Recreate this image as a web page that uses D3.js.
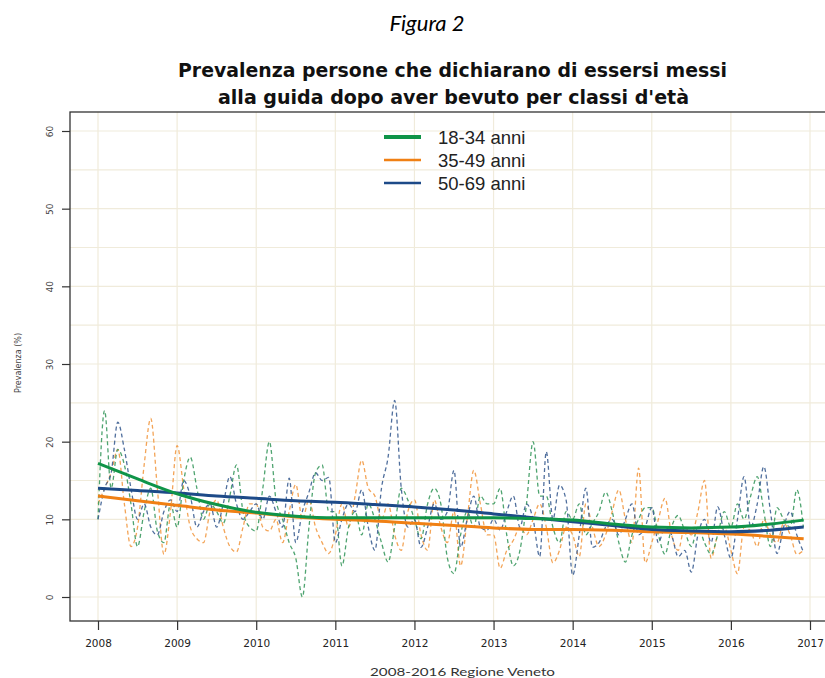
<!DOCTYPE html>
<html>
<head>
<meta charset="utf-8">
<script src="https://cdn.jsdelivr.net/npm/d3@7"></script>
<style>
  html, body { margin: 0; padding: 0; background: #fff; }
  svg { display: block; }
</style>
</head>
<body>
<svg id="chart" width="825" height="678"></svg>
<script>
// ---- DATA ----
const seriesNames = ["18-34 anni", "35-49 anni", "50-69 anni"];
const xTickLabels = ["2008","2009","2010","2011","2012","2013","2014","2015","2016","2017"];
const yTickLabels = [0, 10, 20, 30, 40, 50, 60];
const startYear = 2008;

// monthly values Jan 2008 .. Dec 2016
const green1834 = [
  10, 24, 14, 19, 17, 12, 6.5, 11, 14, 8.5, 7, 12,
  9, 15, 18, 14, 10, 12, 11, 9.5, 13, 17, 11, 9,
  8.5, 14, 20, 12.5, 10, 7, 5, 0, 9, 16, 17, 11,
  11, 4, 9, 11, 8, 12, 10, 7, 4.5, 9, 14, 12.5,
  10, 7.5, 12, 14, 12, 5, 3, 8, 11, 9, 13, 12,
  12, 14, 8, 4, 6, 12, 20, 13, 13, 9, 7, 11,
  10, 12, 8, 9.5, 11, 13.5, 11, 7, 4.5, 8, 10, 11.5,
  11.5, 8, 5.5, 9, 10.5, 8.5, 6.5, 9, 7, 5.5, 8, 11,
  9, 12, 10, 13, 15.5, 11, 6.5, 11.5, 10, 9, 13.8, 9
];
const orange3549 = [
  12, 14, 16, 19, 12, 6.5, 9, 17, 23, 14, 5.5, 11,
  19.5, 14, 9, 7.5, 7, 11, 12.5, 9, 6.5, 5.8, 9, 12,
  12, 9, 8.5, 10, 7, 11, 14.5, 10, 12.5, 9, 7, 5.6,
  8, 12, 9, 13, 17.6, 14, 13, 10, 12, 8, 6, 11,
  12.5, 8, 6, 12.5, 9, 7, 11, 4, 10, 16.3, 12, 8,
  8, 3.7, 6, 7.3, 9, 8, 10, 12, 9, 4.4, 6, 9,
  8, 5.2, 12, 9, 6.5, 8, 11, 13.8, 10, 7, 16.6, 4.4,
  7, 10, 12.7, 8, 6, 9, 8, 11, 15, 5, 8, 9,
  6, 3, 9, 8.5, 6.5, 10, 8, 7, 9.5, 8, 5.5, 6
];
const blue5069 = [
  10, 14, 16, 22.5, 19, 14, 10, 12, 9, 8, 11, 12.5,
  11, 15, 13, 9, 11, 12, 9, 12, 15.5, 12, 10, 11,
  12, 10, 13, 11, 9, 15.3, 7, 11, 13.5, 16, 15, 15.4,
  7, 10, 12, 11, 13.8, 9, 6, 14, 18, 25.3, 14, 9,
  10, 6.4, 9, 12, 10, 11, 16.3, 6.4, 10, 13, 9, 8.6,
  10, 8.6, 11, 13, 9, 12, 10, 5.2, 18.7, 10, 14.4, 12.5,
  2.8, 8, 14, 6.4, 7, 9, 10, 8, 10, 12, 8, 9,
  11.5, 7, 9, 8, 5.2, 6, 3.2, 8, 10, 7, 11.6, 8,
  5, 10, 15.5, 9, 12, 16.8, 11, 5.6, 9, 11, 8, 5.8
];

// smoothed trend (half-year knots)
const trendYears = [2008, 2008.5, 2009, 2009.5, 2010, 2010.5, 2011, 2011.5, 2012, 2012.5,
                    2013, 2013.5, 2014, 2014.5, 2015, 2015.5, 2016, 2016.5, 2016.92];
const greenTrend  = [17.2, 15.2, 13.3, 11.9, 10.9, 10.4, 10.2, 10.2, 10.2, 10.2,
                     10.2, 10.1, 9.9, 9.4, 9.0, 8.9, 9.0, 9.4, 9.9];
const orangeTrend = [13.0, 12.4, 11.8, 11.2, 10.8, 10.3, 10.0, 9.8, 9.5, 9.2,
                     8.9, 8.7, 8.7, 8.6, 8.4, 8.3, 8.1, 7.8, 7.5];
const blueTrend   = [14.0, 13.7, 13.4, 13.0, 12.7, 12.4, 12.2, 11.9, 11.6, 11.2,
                     10.7, 10.2, 9.7, 9.2, 8.7, 8.5, 8.4, 8.6, 9.0];

// ---- STYLE ----
const trendColors = ["#0f9448", "#f08014", "#1d4a88"];
const dashColors  = ["#3c9a60", "#f29a45", "#3d5f92"];

// ---- DRAW ----
const svg = d3.select("#chart");
const box = { left: 70, top: 112, right: 834, bottom: 621 };

const x = d3.scaleLinear().domain([2008, 2017]).range([98, 810]);
const y = d3.scaleLinear().domain([0, 60]).range([597, 131]);

// grid
const gridG = svg.append("g");
gridG.selectAll("line.h").data(d3.range(0, 61, 5)).join("line")
  .attr("x1", box.left).attr("x2", box.right)
  .attr("y1", d => y(d)).attr("y2", d => y(d))
  .attr("stroke", "#f0ebdb").attr("stroke-width", 1.2);
gridG.selectAll("line.v").data(xTickLabels).join("line")
  .attr("x1", d => x(+d)).attr("x2", d => x(+d))
  .attr("y1", box.top).attr("y2", box.bottom)
  .attr("stroke", "#f0ebdb").attr("stroke-width", 1.2);

// dashed monthly series
const monthly = [green1834, orange3549, blue5069];
const lineM = d3.line()
  .x((d, i) => x(startYear + i / 12))
  .y(d => y(d))
  .curve(d3.curveMonotoneX);
[1, 0, 2].forEach(k => {
  svg.append("path").datum(monthly[k])
    .attr("d", lineM)
    .attr("fill", "none")
    .attr("stroke", dashColors[k])
    .attr("stroke-width", 1.3)
    .attr("stroke-dasharray", "4,3")
    .attr("opacity", 0.9);
});

// trends
const trends = [greenTrend, orangeTrend, blueTrend];
const lineT = d3.line()
  .x((d, i) => x(trendYears[i]))
  .y(d => y(d))
  .curve(d3.curveMonotoneX);
[1, 2, 0].forEach(k => {
  svg.append("path").datum(trends[k])
    .attr("d", lineT)
    .attr("fill", "none")
    .attr("stroke", trendColors[k])
    .attr("stroke-width", 3);
});

// box
svg.append("rect")
  .attr("x", box.left).attr("y", box.top)
  .attr("width", box.right - box.left).attr("height", box.bottom - box.top)
  .attr("fill", "none").attr("stroke", "#333").attr("stroke-width", 1.3);

// y axis
const yAxis = d3.axisLeft(y).tickValues(yTickLabels).tickSize(8).tickPadding(4).tickFormat(d3.format("d"));
const gy = svg.append("g").attr("transform", `translate(${box.left},0)`).call(yAxis);
gy.select(".domain").remove();
gy.selectAll(".tick line").attr("stroke", "#333").attr("stroke-width", 1.2);
gy.selectAll(".tick text")
  .attr("transform", "translate(-20,0) rotate(-90)")
  .attr("x", 0).attr("y", 0)
  .attr("dy", "0.35em")
  .attr("text-anchor", "middle")
  .style("font-family", "'DejaVu Sans', sans-serif")
  .style("font-size", "9px").attr("fill", "#444");

// x axis
const xAxis = d3.axisBottom(x).tickValues(xTickLabels.map(Number)).tickSize(9).tickPadding(10).tickFormat(d3.format("d"));
const gx = svg.append("g").attr("transform", `translate(0,${box.bottom})`).call(xAxis);
gx.select(".domain").remove();
gx.selectAll(".tick line").attr("stroke", "#333").attr("stroke-width", 1.2);
gx.selectAll(".tick text")
  .style("font-family", "'DejaVu Sans', sans-serif")
  .style("font-size", "10.5px").attr("fill", "#222");

// axis titles
svg.append("text")
  .attr("transform", "translate(21,363) rotate(-90)")
  .attr("text-anchor", "middle")
  .style("font-family", "'DejaVu Sans', sans-serif")
  .style("font-size", "8px").attr("fill", "#444")
  .text("Prevalenza (%)");
svg.append("text")
  .attr("x", 370).attr("y", 676)
  .attr("textLength", 185).attr("lengthAdjust", "spacingAndGlyphs")
  .style("font-family", "Lato, 'Open Sans', sans-serif")
  .style("font-size", "12px").attr("fill", "#333")
  .text("2008-2016 Regione Veneto");

// titles
svg.append("text")
  .attr("x", 427).attr("y", 31)
  .attr("text-anchor", "middle")
  .style("font-family", "Lato, 'Open Sans', sans-serif")
  .style("font-style", "italic")
  .style("font-size", "22px").attr("fill", "#000")
  .text("Figura 2");
svg.append("text")
  .attr("x", 178).attr("y", 77)
  .attr("textLength", 549).attr("lengthAdjust", "spacingAndGlyphs")
  .style("font-family", "'DejaVu Sans', sans-serif")
  .style("font-weight", "bold")
  .style("font-size", "19.5px").attr("fill", "#111")
  .text("Prevalenza persone che dichiarano di essersi messi");
svg.append("text")
  .attr("x", 218).attr("y", 104)
  .attr("textLength", 471).attr("lengthAdjust", "spacingAndGlyphs")
  .style("font-family", "'DejaVu Sans', sans-serif")
  .style("font-weight", "bold")
  .style("font-size", "19.5px").attr("fill", "#111")
  .text("alla guida dopo aver bevuto per classi d'età");

// legend
const legend = svg.append("g");
const legendRows = [137, 160, 183];
const legendWidths = [4, 2.6, 2.6];
seriesNames.forEach((name, i) => {
  legend.append("line")
    .attr("x1", 384).attr("x2", 421)
    .attr("y1", legendRows[i]).attr("y2", legendRows[i])
    .attr("stroke", trendColors[i]).attr("stroke-width", legendWidths[i]);
  legend.append("text")
    .attr("x", 438).attr("y", legendRows[i])
    .attr("dy", "0.36em")
    .style("font-family", "'Liberation Sans', Arial, sans-serif")
    .style("font-size", "18.5px").attr("fill", "#222")
    .text(name);
});
</script>
</body>
</html>
